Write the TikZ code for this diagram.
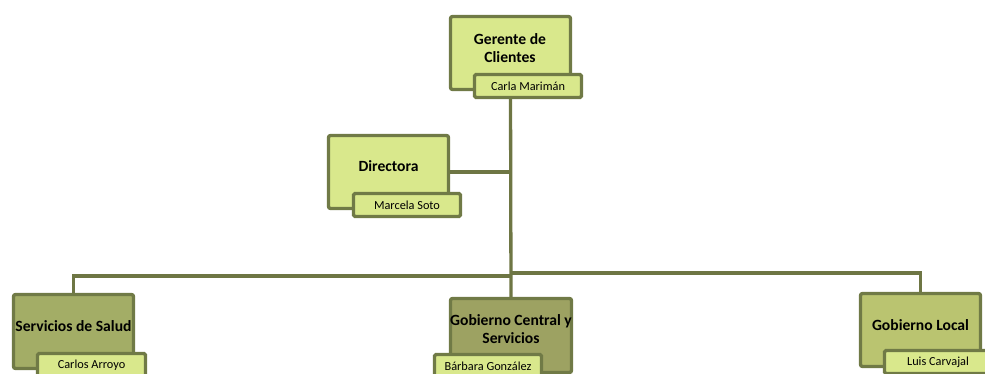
\documentclass[tikz,border=0pt]{standalone}
\usepackage{fontspec}
\setmainfont{Carlito}
\usetikzlibrary{backgrounds}
\definecolor{lightg}{HTML}{D9E88C}
\definecolor{edgeg}{HTML}{707A46}
\definecolor{lineg}{HTML}{6E7644}
\definecolor{saludg}{HTML}{A3AD66}
\definecolor{centralg}{HTML}{9DA262}
\definecolor{localg}{HTML}{BAC470}
\tikzset{
  unitbox/.style={draw=edgeg, line width=3.3pt, rounded corners=2pt, minimum width=120pt, minimum height=73pt, inner sep=0pt},
  namebox/.style={draw=edgeg, line width=3.3pt, rounded corners=1.5pt, fill=lightg, minimum width=107pt, minimum height=23pt, inner sep=0pt, font=\fontsize{12.3}{14}\selectfont},
  titletext/.style={font=\fontsize{15.6}{18.5}\selectfont\bfseries, align=center, inner sep=0pt},
  conn/.style={draw=lineg, line width=3.3pt}
}
\begin{document}
\begin{tikzpicture}[x=1pt,y=-1pt]
\useasboundingbox (0,0) rectangle (985,373);
\clip (0,0) rectangle (985,373);
% boxes
\node[unitbox, fill=lightg] (g) at (510.5,53) {};
\node[unitbox, fill=lightg] (d) at (388.5,172) {};
\node[unitbox, fill=saludg, minimum height=74pt] (ss) at (73.5,331.5) {};
\node[unitbox, fill=centralg, minimum width=121pt, minimum height=74pt] (gc) at (511,335.5) {};
\node[unitbox, fill=localg] (gl) at (920.5,330) {};
% junctions
\coordinate (j1) at (510.5,276);
\coordinate (j2) at (510.5,273);
% connectors
\begin{pgfonlayer}{background}
\draw[conn] (g.south) -- (gc.north);
\draw[conn] (d.east) -- (d.east -| g.south);
\draw[conn] (j1) -| (ss.north);
\draw[conn] (j2) -| (gl.north);
\end{pgfonlayer}
% titles
\node[titletext] (gt) at (510,48) {Gerente de\\Clientes};
\node[titletext] (dt) at (388.5,166) {Directora};
\node[titletext] (sst) at (73.5,326) {Servicios de Salud};
\node[titletext] (gct) at (511,329) {Gobierno Central y\\Servicios};
\node[titletext] (glt) at (920.5,325) {Gobierno Local};
% name boxes
\node[namebox] (gn) at (528,86) {Carla Marimán};
\node[namebox] (dn) at (407,205) {Marcela Soto};
\node[namebox, minimum width=108pt] (ssn) at (91.5,365) {Carlos Arroyo};
\node[namebox] (gcn) at (488,366) {Bárbara González};
\node[namebox] (gln) at (938,362) {Luis Carvajal};
\end{tikzpicture}
\end{document}
